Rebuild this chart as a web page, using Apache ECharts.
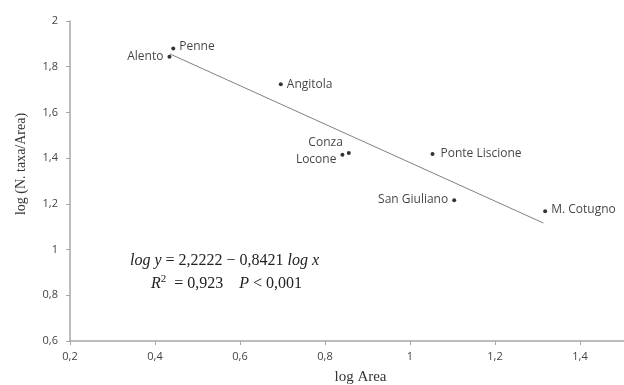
<!DOCTYPE html>
<html><head><meta charset="utf-8">
<script src="https://cdn.jsdelivr.net/npm/echarts@6/dist/echarts.min.js"></script>
<style>html,body{margin:0;padding:0;background:#fff;overflow:hidden}#c{width:624px;height:385px}</style>
</head><body><div id="c"></div>
<script>
var siteNames = ['Alento','Penne','Angitola','Conza','Locone','Ponte Liscione','San Giuliano','M. Cotugno'];
var logArea = [0.434, 0.443, 0.696, 0.856, 0.841, 1.053, 1.104, 1.318];
var logTaxa = [1.844, 1.880, 1.723, 1.423, 1.415, 1.418, 1.216, 1.168];
var fitX = [0.435, 1.314];
var fitY = [1.856, 1.116];
var xTicks = [0.2, 0.4, 0.6, 0.8, 1.0, 1.2, 1.4, 1.6];
var yTicks = [0.6, 0.8, 1.0, 1.2, 1.4, 1.6, 1.8, 2.0];

var labelPos = {
  'Alento': {position:'left', offset:[0,0]},
  'Penne': {position:'right', offset:[0,-2]},
  'Angitola': {position:'right', offset:[0,0]},
  'Conza': {position:'left', offset:[0,-10]},
  'Locone': {position:'left', offset:[0,5]},
  'Ponte Liscione': {position:'right', offset:[2,0]},
  'San Giuliano': {position:'left', offset:[0,-1]},
  'M. Cotugno': {position:'right', offset:[0,-2]}
};
var pts = siteNames.map(function(n,i){
  return {value:[logArea[i], logTaxa[i]], name:n,
    label:{show:true, formatter:n, position:labelPos[n].position, offset:labelPos[n].offset, distance:4}};
});
function fmt(v){ return String(Math.round(v*10)/10).replace('.', ','); }

var chart = echarts.init(document.getElementById('c'));
chart.setOption({
  animation:false,
  grid:{left:70, top:21, height:320, width:595, outerBoundsMode:'none', containLabel:false},
  xAxis:{type:'value', min:0.2, max:1.6, interval:0.2,
    name:'log Area', nameLocation:'middle', nameGap:29,
    nameTextStyle:{fontFamily:'Liberation Serif', fontSize:15, color:'#333', padding:[0,14,0,0]},
    axisLine:{lineStyle:{color:'#a6a6a6', width:1.5}},
    axisTick:{show:true, length:4, lineStyle:{color:'#a6a6a6'}},
    axisLabel:{formatter:fmt, fontFamily:'Open Sans', fontSize:11, color:'#444', margin:10},
    splitLine:{show:false}},
  yAxis:{type:'value', min:0.6, max:2, interval:0.2,
    name:'log (N. taxa/Area)', nameLocation:'middle', nameGap:42,
    nameTextStyle:{fontFamily:'Liberation Serif', fontSize:14, color:'#333', padding:[0,0,0,34]},
    axisLine:{show:true, lineStyle:{color:'#a6a6a6', width:1.5}},
    axisTick:{show:true, length:4, lineStyle:{color:'#a6a6a6'}},
    axisLabel:{formatter:fmt, fontFamily:'Open Sans', fontSize:11, color:'#444', margin:12},
    splitLine:{show:false}},
  series:[
    {type:'line', data:[[fitX[0],fitY[0]],[fitX[1],fitY[1]]], symbol:'none',
      lineStyle:{color:'#808080', width:1}, silent:true, z:1},
    {type:'scatter', data:pts, symbolSize:4, itemStyle:{color:'#000'},
      label:{fontFamily:'Open Sans', fontSize:12, color:'#111'}, z:3}
  ],
  graphic:[
    {type:'text', left:130, top:253, style:{
      text:'{i|log y} = 2,2222 − 0,8421 {i|log x}',
      rich:{i:{fontStyle:'italic', fontFamily:'Liberation Serif', fontSize:16, fill:'#222'}},
      font:'16px "Liberation Serif"', fill:'#222'}},
    {type:'text', left:151, top:274, style:{
      text:'{i|R}{s|2}  = 0,923    {i|P} < 0,001',
      rich:{i:{fontStyle:'italic', fontFamily:'Liberation Serif', fontSize:16, fill:'#222'},
            s:{fontFamily:'Liberation Serif', fontSize:11, fill:'#222', verticalAlign:'top', padding:[0,0,8,0]}},
      font:'16px "Liberation Serif"', fill:'#222'}}
  ]
});
</script></body></html>
